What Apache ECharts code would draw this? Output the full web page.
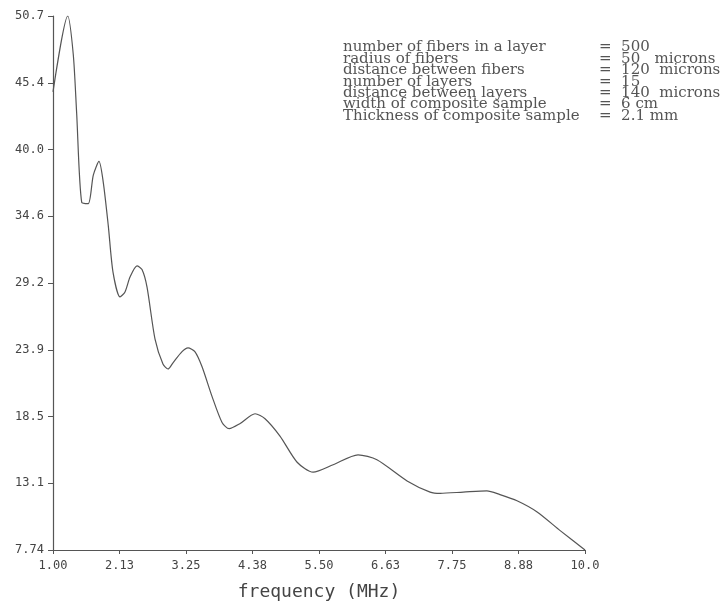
<!DOCTYPE html>
<html>
<head>
<meta charset="utf-8">
<script src="https://cdn.jsdelivr.net/npm/echarts@6/dist/echarts.min.js"></script>
<style>html,body{margin:0;padding:0;background:#fff;}#c{width:720px;height:606px;}</style>
</head>
<body>
<div id="c"></div>
<script>
// frequency (MHz)
var freq = [1.00, 1.249, 1.343, 1.40, 1.486, 1.597, 1.682, 1.778, 1.851, 1.936, 2.015, 2.134, 2.218, 2.303, 2.421, 2.506, 2.59, 2.726, 2.86, 2.946, 3.03, 3.183, 3.284, 3.40, 3.52, 3.69, 3.86, 3.98, 4.16, 4.418, 4.587, 4.84, 5.13, 5.40, 5.74, 6.16, 6.48, 6.99, 7.38, 7.55, 7.94, 8.34, 8.56, 8.85, 9.19, 9.58, 10.0];
var values = [44.6, 50.7, 47.6, 42.9, 35.7, 35.6, 37.9, 39.0, 37.3, 33.8, 30.1, 28.1, 28.5, 29.7, 30.6, 30.3, 28.9, 24.7, 22.7, 22.3, 22.8, 23.7, 24.0, 23.7, 22.5, 20.1, 18.0, 17.5, 17.9, 18.7, 18.3, 16.9, 14.8, 14.0, 14.6, 15.4, 15.0, 13.3, 12.4, 12.3, 12.4, 12.5, 12.2, 11.7, 10.8, 9.3, 7.74];
var xTicks = [1.0, 2.125, 3.25, 4.375, 5.5, 6.625, 7.75, 8.875, 10.0];
var xTickLabels = ['1.00', '2.13', '3.25', '4.38', '5.50', '6.63', '7.75', '8.88', '10.0'];
var yTicks = [7.74, 13.11, 18.48, 23.85, 29.22, 34.59, 39.96, 45.33, 50.7];
var yTickLabels = ['7.74', '13.1', '18.5', '23.9', '29.2', '34.6', '40.0', '45.4', '50.7'];
var noteLabels = ['number of fibers in a layer', 'radius of fibers', 'distance between fibers', 'number of layers', 'distance between layers', 'width of composite sample', 'Thickness of composite sample'];
var noteValues = ['=  500', '=  50   microns', '=  120  microns', '=  15', '=  140  microns', '=  6 cm', '=  2.1 mm'];

var chart = echarts.init(document.getElementById('c'), null, {renderer: 'canvas'});
var axisCol = '#555';
var mono = '"DejaVu Sans Mono", "Liberation Mono", monospace';
var serifFont = '15px "DejaVu Serif", "Liberation Serif", serif';
chart.setOption({
  animation: false,
  backgroundColor: '#fff',
  grid: {left: 53, right: 135, top: 16, bottom: 55, containLabel: false},
  xAxis: {
    type: 'value', min: 1, max: 10,
    name: 'frequency (MHz)', nameLocation: 'middle', nameGap: 33,
    nameTextStyle: {fontFamily: mono, fontSize: 18, color: '#444'},
    axisLine: {show: true, lineStyle: {color: axisCol, width: 1.2}},
    axisTick: {show: true, length: 4, customValues: xTicks, lineStyle: {color: axisCol}},
    axisLabel: {customValues: xTicks, margin: 10, fontFamily: mono, fontSize: 12, color: '#444',
      formatter: function (v) { var i = xTicks.indexOf(v); return i >= 0 ? xTickLabels[i] : ''; }},
    splitLine: {show: false}
  },
  yAxis: {
    type: 'value', min: 7.74, max: 50.7,
    axisLine: {show: true, lineStyle: {color: axisCol, width: 1.2}},
    axisTick: {show: true, length: 5, customValues: yTicks, lineStyle: {color: axisCol}},
    axisLabel: {customValues: yTicks, margin: 9, fontFamily: mono, fontSize: 12, color: '#444',
      formatter: function (v) { var i = yTicks.indexOf(v); return i >= 0 ? yTickLabels[i] : ''; }},
    splitLine: {show: false}
  },
  series: [{
    type: 'line',
    data: freq.map(function (f, i) { return [f, values[i]]; }),
    showSymbol: false,
    smooth: 0.25,
    lineStyle: {color: '#555', width: 1.2}
  }],
  graphic: [
    {type: 'text', left: 343, top: 40, style: {text: noteLabels.join('\n'), font: serifFont, lineHeight: 11.4, fill: '#555'}},
    {type: 'text', left: 599, top: 40, style: {text: noteValues.join('\n'), font: serifFont, lineHeight: 11.4, fill: '#555'}}
  ]
});
</script>
</body>
</html>
